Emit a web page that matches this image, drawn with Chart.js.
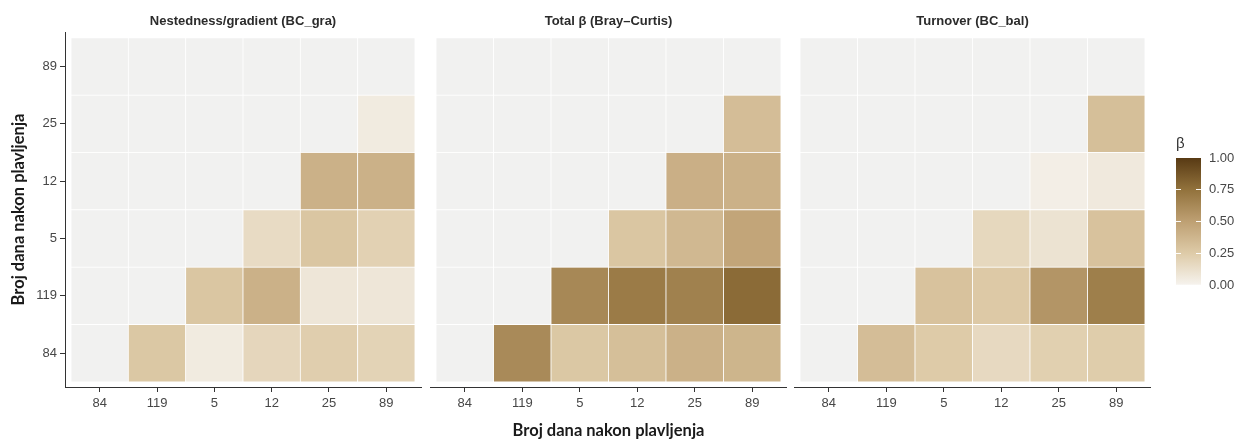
<!DOCTYPE html>
<html>
<head>
<meta charset="utf-8">
<script src="https://cdn.jsdelivr.net/npm/chart.js@4.4.0/dist/chart.umd.min.js"></script>
<style>
html,body{margin:0;padding:0;background:#fff;}
#wrap{position:relative;width:1237px;height:441px;overflow:hidden;background:#fff;}
.box{position:absolute;top:0;height:441px;}
canvas{display:block;}
</style>
</head>
<body>
<div id="wrap">
  <div class="box" style="left:0px;width:430px"><canvas id="c1" width="430" height="441"></canvas></div>
  <div class="box" style="left:430px;width:357px"><canvas id="c2" width="357" height="441"></canvas></div>
  <div class="box" style="left:794px;width:357px"><canvas id="c3" width="357" height="441"></canvas></div>
  <div class="box" style="left:1160px;width:77px"><canvas id="c4" width="77" height="441"></canvas></div>
</div>
<script>
// ---- data ----
const xCats = ['84', '119', '5', '12', '25', '89'];
const yCats = ['84', '119', '5', '12', '25', '89']; // bottom -> top
const panelTitles = ['Nestedness/gradient (BC_gra)', 'Total \u03B2 (Bray\u2013Curtis)', 'Turnover (BC_bal)'];
const axisTitle = 'Broj dana nakon plavljenja';
const legendTitle = '\u03B2';
const legendTicks = [0, 0.25, 0.5, 0.75, 1];

// rows follow yCats (bottom -> top), columns follow xCats
const nestednessValues = [
  [null, 0.27, 0.05, 0.18, 0.23, 0.20],
  [null, null, 0.28, 0.40, 0.08, 0.08],
  [null, null, null, 0.15, 0.28, 0.21],
  [null, null, null, null, 0.40, 0.40],
  [null, null, null, null, null, 0.05],
  [null, null, null, null, null, null]
];
const totalValues = [
  [null, 0.62, 0.27, 0.32, 0.40, 0.38],
  [null, null, 0.63, 0.70, 0.67, 0.78],
  [null, null, null, 0.28, 0.36, 0.47],
  [null, null, null, null, 0.41, 0.40],
  [null, null, null, null, null, 0.33],
  [null, null, null, null, null, null]
];
const turnoverValues = [
  [null, 0.33, 0.25, 0.16, 0.22, 0.24],
  [null, null, 0.30, 0.26, 0.56, 0.68],
  [null, null, null, 0.17, 0.10, 0.30],
  [null, null, null, null, 0.03, 0.06],
  [null, null, null, null, null, 0.32],
  [null, null, null, null, null, null]
];

// ---- styles ----
const NA_COLOR = '#f1f1f0';
const colorStops = [
  [0.00, [246, 243, 238]],
  [0.25, [222, 203, 168]],
  [0.50, [190, 160, 115]],
  [0.75, [146, 114, 60]],
  [1.00, [88, 58, 20]]
];
function betaColor(v) {
  if (v === null || v === undefined) return NA_COLOR;
  for (let i = 1; i < colorStops.length; i++) {
    const [p1, c1] = colorStops[i];
    const [p0, c0] = colorStops[i - 1];
    if (v <= p1) {
      const t = (v - p0) / (p1 - p0);
      const c = c0.map((a, k) => Math.round(a + (c1[k] - a) * t));
      return 'rgb(' + c.join(',') + ')';
    }
  }
  return 'rgb(' + colorStops[colorStops.length - 1][1].join(',') + ')';
}
const tickFont = {family: '"Liberation Sans", Arial, sans-serif', size: 13};
const tickColor = '#474747';
const titleFont = {family: '"Liberation Sans", Arial, sans-serif', size: 13, weight: 'bold'};
const axisTitleFont = {family: 'Lato, "Open Sans", sans-serif', size: 16.5, weight: 'bold'};

function cells(values) {
  const out = [];
  values.forEach((row, r) => row.forEach((v, c) => out.push({x: c + 0.5, y: [r, r + 1], v: v})));
  return out;
}

function heatChart(id, title, values, showY, xTitle, rightPad) {
  const data = cells(values);
  return new Chart(document.getElementById(id), {
    type: 'bar',
    data: {
      datasets: [{
        data: data,
        backgroundColor: data.map(d => betaColor(d.v)),
        borderColor: '#ffffff',
        borderWidth: 0.75,
        borderSkipped: false,
        barPercentage: 1,
        categoryPercentage: 1
      }]
    },
    options: {
      responsive: false,
      animation: false,
      events: [],
      layout: {padding: {left: 0, right: rightPad, top: 0, bottom: 0}},
      plugins: {
        legend: {display: false},
        tooltip: {enabled: false},
        title: {
          display: true, text: title, fullSize: false, color: '#2b2b2b',
          font: titleFont, padding: {top: 14, bottom: 2.4}
        }
      },
      scales: {
        x: {
          type: 'linear', min: -0.105, max: 6.105, offset: false,
          afterBuildTicks: s => { s.ticks = xCats.map((_, i) => ({value: i + 0.5})); },
          afterFit: s => { s.height = 54; },
          ticks: {
            callback: v => xCats[Math.round(v - 0.5)],
            color: tickColor, font: tickFont, padding: 4, maxRotation: 0, autoSkip: false
          },
          grid: {drawOnChartArea: false, drawTicks: true, tickLength: 5, tickColor: '#333', tickWidth: 1, offset: false},
          border: {display: true, color: '#333', width: 1},
          title: {display: !!xTitle, text: xTitle || '', color: '#1a1a1a', font: axisTitleFont, padding: {top: 0, bottom: 0}}
        },
        y: {
          type: 'linear', min: -0.09, max: 6.1, display: showY,
          afterBuildTicks: s => { s.ticks = yCats.map((_, i) => ({value: i + 0.5})); },
          afterFit: s => { s.width = showY ? 65 : 0; },
          ticks: {
            callback: v => yCats[Math.round(v - 0.5)],
            color: tickColor, font: tickFont, padding: 3, autoSkip: false
          },
          grid: {drawOnChartArea: false, drawTicks: true, tickLength: 5, tickColor: '#333', tickWidth: 1, offset: false},
          border: {display: true, color: '#333', width: 1},
          title: {display: showY, text: axisTitle, color: '#1a1a1a', font: axisTitleFont, padding: {top: 9, bottom: 0}}
        }
      }
    }
  });
}

heatChart('c1', panelTitles[0], nestednessValues, true, null, 9);
heatChart('c2', panelTitles[1], totalValues, false, axisTitle, 0);
heatChart('c3', panelTitles[2], turnoverValues, false, null, 0);

// ---- colour bar legend ----
new Chart(document.getElementById('c4'), {
  type: 'bar',
  data: {
    labels: [''],
    datasets: [{
      data: [[0, 1]],
      backgroundColor: ctx => {
        const chart = ctx.chart;
        const a = chart.chartArea;
        if (!a) return NA_COLOR;
        const g = chart.ctx.createLinearGradient(0, a.bottom, 0, a.top);
        colorStops.forEach(([p, c]) => g.addColorStop(p, 'rgb(' + c.join(',') + ')'));
        return g;
      },
      borderWidth: 0,
      barPercentage: 1,
      categoryPercentage: 1
    }]
  },
  options: {
    responsive: false,
    animation: false,
    events: [],
    layout: {padding: {left: 16, right: 0, top: 130, bottom: 156}},
    plugins: {
      legend: {display: false},
      tooltip: {enabled: false},
      title: {
        display: true, text: legendTitle, align: 'start', fullSize: false, color: '#333',
        font: {family: '"Liberation Sans", Arial, sans-serif', size: 15, weight: 'normal'},
        padding: {top: 5, bottom: 5}
      }
    },
    scales: {
      x: {display: false},
      y: {
        position: 'right', min: 0, max: 1,
        afterBuildTicks: s => { s.ticks = legendTicks.map(v => ({value: v})); },
        afterFit: s => { s.width = 36; },
        ticks: {callback: v => Number(v).toFixed(2), padding: 8, color: tickColor, font: tickFont},
        grid: {
          z: 1, drawTicks: false, lineWidth: 1,
          color: ctx => (ctx.tick && ctx.tick.value > 0 && ctx.tick.value < 1) ? 'rgba(255,255,255,0.95)' : 'rgba(0,0,0,0)'
        },
        border: {display: false, dash: [5, 15]}
      }
    }
  }
});
</script>
</body>
</html>
